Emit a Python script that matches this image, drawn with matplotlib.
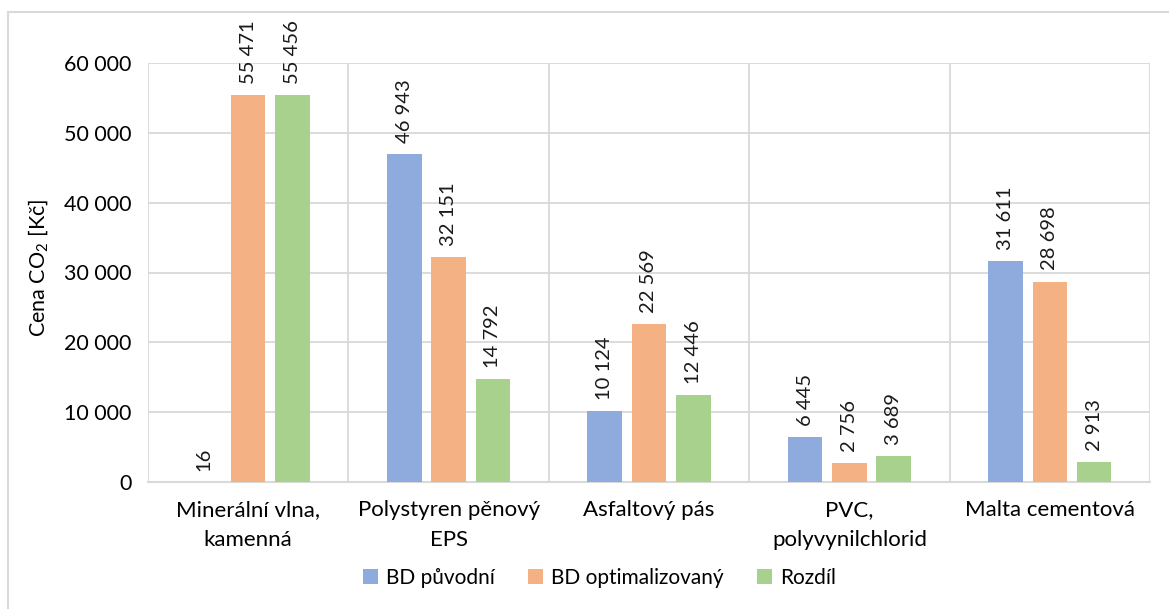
import numpy as np
import matplotlib.pyplot as plt
from matplotlib.patches import Rectangle

plt.rcParams['font.family'] = ['Lato', 'DejaVu Sans']
plt.rcParams['mathtext.fontset'] = 'custom'
plt.rcParams['mathtext.rm'] = 'Lato'
plt.rcParams['mathtext.it'] = 'Lato'

categories = ['Minerální vlna,\nkamenná', 'Polystyren pěnový\nEPS', 'Asfaltový pás',
              'PVC,\npolyvynilchlorid', 'Malta cementová']
bd_puvodni = [16, 46943, 10124, 6445, 31611]
bd_optimal = [55471, 32151, 22569, 2756, 28698]
rozdil = [55456, 14792, 12446, 3689, 2913]

series = [('BD původní', bd_puvodni, '#8FAADC'),
          ('BD optimalizovaný', bd_optimal, '#F4B183'),
          ('Rozdíl', rozdil, '#A9D18E')]

def fmt(v):
    return f"{v:,}".replace(",", " ")

fig = plt.figure(figsize=(11.69, 6.09), dpi=100)
ax = fig.add_axes([148 / 1169, 1 - 482 / 609, (1150 - 148) / 1169, (482 - 63) / 609])

x = np.arange(len(categories))
width = 0.172
step = 0.221
for i, (name, vals, color) in enumerate(series):
    pos = x + (i - 1) * step
    bars = ax.bar(pos, vals, width, color=color, label=name, zorder=3)
    for b, v in zip(bars, vals):
        ax.annotate(fmt(v), (b.get_x() + b.get_width() / 2, v),
                    xytext=(0, 8), textcoords='offset points',
                    rotation=90, ha='center', va='bottom', fontsize=14.5, color='#1a1a1a')

ax.set_xlim(-0.5, len(categories) - 0.5)
ax.set_ylim(0, 60000)
ax.set_yticks(range(0, 60001, 10000))
ax.set_yticklabels([fmt(v) for v in range(0, 60001, 10000)])
ax.set_xticks(x)
ax.set_xticklabels(categories, linespacing=1.6, fontsize=16)

# horizontal grid plus separators between categories
ax.grid(axis='y', color='#D9D9D9', linewidth=1.3, zorder=0)
for sep in np.arange(-0.5, len(categories), 1.0):
    ax.axvline(sep, color='#D9D9D9', linewidth=1.3, zorder=0)

for side in ['top', 'right', 'left']:
    ax.spines[side].set_visible(False)
ax.spines['bottom'].set_color('#D9D9D9')
ax.spines['bottom'].set_linewidth(1.5)
ax.tick_params(axis='y', length=0, labelsize=15.5, pad=12)
ax.tick_params(axis='x', length=0, pad=13)

fig.text(38 / 1169, 1 - 268 / 609, 'Cena CO$_2$ [Kč]', rotation=90,
         ha='center', va='center', fontsize=15.5)

fig.legend(loc='center', bbox_to_anchor=(0.513, 1 - 578 / 609), ncol=3, frameon=False,
           fontsize=15, handlelength=0.7, handleheight=0.7, handletextpad=0.4,
           columnspacing=1.6)

# chart frame
fig.patches.append(Rectangle((8 / 1169, -0.05), 1.2, 1 - 12 / 609 + 0.05,
                             transform=fig.transFigure, fill=False,
                             edgecolor='#D9D9D9', linewidth=1.5))

fig.savefig('out.png', dpi=100)
